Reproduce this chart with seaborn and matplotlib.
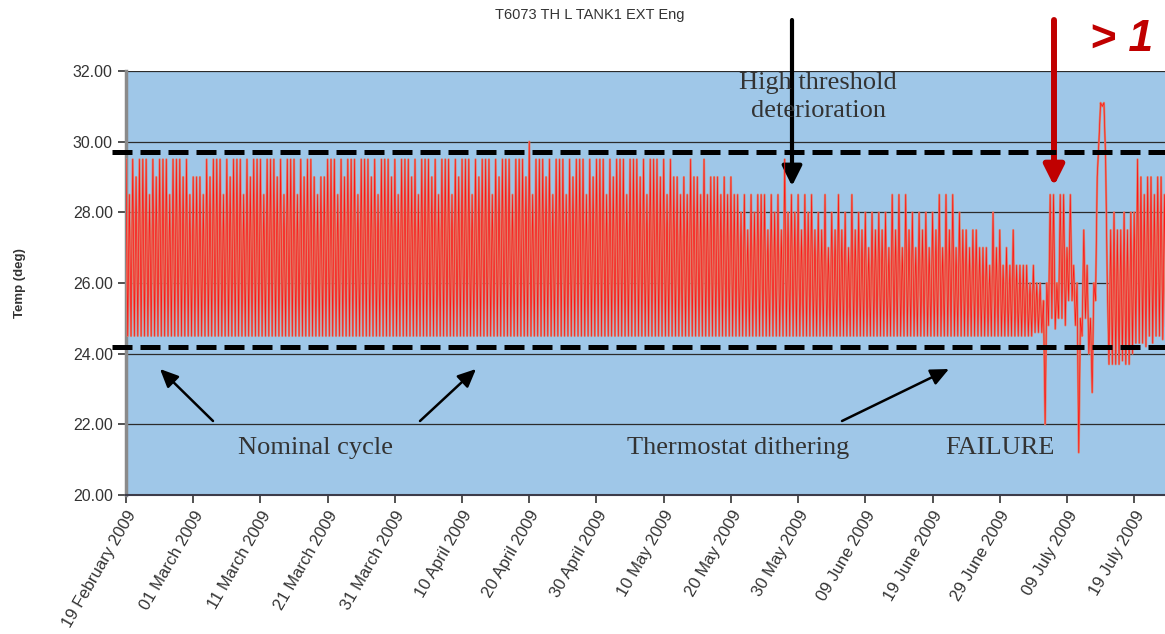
import numpy as np
import pandas as pd
import seaborn as sns
import matplotlib.pyplot as plt

# tank temperature, one row = 10 days, 4 readings per day (peak, low, peak, low)
peak_a = [
    29.5, 29.5, 29.5, 29.5, 29.5, 29.5, 29.5, 29.5, 29.5, 29.5,
    29.0, 29.0, 29.5, 29.5, 29.5, 29.5, 29.5, 29.5, 29.5, 29.5,
    29.5, 29.5, 29.5, 29.5, 29.5, 29.5, 29.5, 29.5, 29.0, 29.0,
    29.5, 29.5, 29.5, 29.5, 29.5, 29.5, 29.5, 29.5, 29.5, 29.5,
    29.5, 29.5, 29.5, 29.5, 29.5, 29.5, 29.5, 29.5, 29.5, 29.5,
    29.5, 29.5, 29.5, 29.5, 29.5, 29.5, 29.5, 29.5, 29.5, 29.5,
    30.0, 29.5, 29.5, 29.5, 29.5, 29.5, 29.5, 29.5, 29.5, 29.5,
    29.5, 29.5, 29.5, 29.5, 29.5, 29.5, 29.5, 29.5, 29.5, 29.5,
    29.5, 29.5, 29.0, 29.0, 29.5, 29.0, 29.5, 29.0, 29.0, 29.0,
    29.0, 28.5, 28.5, 28.5, 28.5, 28.5, 28.5, 28.5, 29.5, 28.5,
    28.5, 28.5, 28.5, 28.0, 28.5, 28.0, 28.5, 28.0, 28.5, 28.0,
    28.0, 28.0, 28.0, 28.0, 28.5, 28.5, 28.5, 28.0, 28.0, 28.0,
    28.0, 28.5, 28.5, 28.5, 28.0, 27.5, 27.5, 27.0, 27.0, 28.0,
    27.5, 27.0, 27.5, 26.5, 26.5, 26.5, 26.0, 26.0, 28.5, 28.5,
    27.0, 26.5, 25.0, 26.5, 26.0, 31.1, 26.0, 28.0, 27.5, 27.5,
    28.0, 29.0, 29.0, 28.5, 29.0,
]
low_a = [
    24.5, 24.5, 24.5, 24.5, 24.5, 24.5, 24.5, 24.5, 24.5, 24.5,
    24.5, 24.5, 24.5, 24.5, 24.5, 24.5, 24.5, 24.5, 24.5, 24.5,
    24.5, 24.5, 24.5, 24.5, 24.5, 24.5, 24.5, 24.5, 24.5, 24.5,
    24.5, 24.5, 24.5, 24.5, 24.5, 24.5, 24.5, 24.5, 24.5, 24.5,
    24.5, 24.5, 24.5, 24.5, 24.5, 24.5, 24.5, 24.5, 24.5, 24.5,
    24.5, 24.5, 24.5, 24.5, 24.5, 24.5, 24.5, 24.5, 24.5, 24.5,
    24.5, 24.5, 24.5, 24.5, 24.5, 24.5, 24.5, 24.5, 24.5, 24.5,
    24.5, 24.5, 24.5, 24.5, 24.5, 24.5, 24.5, 24.5, 24.5, 24.5,
    24.5, 24.5, 24.5, 24.5, 24.5, 24.5, 24.5, 24.5, 24.5, 24.5,
    24.5, 24.5, 24.5, 24.5, 24.5, 24.5, 24.5, 24.5, 24.5, 24.5,
    24.5, 24.5, 24.5, 24.5, 24.5, 24.5, 24.5, 24.5, 24.5, 24.5,
    24.5, 24.5, 24.5, 24.5, 24.5, 24.5, 24.5, 24.5, 24.5, 24.5,
    24.5, 24.5, 24.5, 24.5, 24.5, 24.5, 24.5, 24.5, 24.5, 24.5,
    24.5, 24.5, 24.5, 24.5, 24.5, 24.6, 24.6, 24.8, 24.7, 25.0,
    25.5, 24.8, 24.5, 24.0, 25.5, 31.0, 23.7, 23.7, 23.8, 23.7,
    24.3, 24.3, 24.5, 24.5, 24.4,
]
peak_b = [
    28.5, 29.0, 29.5, 28.5, 29.0, 29.5, 28.5, 29.5, 29.0, 28.5,
    29.0, 28.5, 29.0, 29.5, 28.5, 29.0, 29.5, 28.5, 29.0, 29.5,
    28.5, 29.5, 29.0, 28.5, 29.5, 28.5, 29.0, 29.5, 28.5, 29.0,
    29.5, 28.5, 29.0, 29.5, 28.5, 29.5, 29.0, 28.5, 29.5, 29.0,
    28.5, 29.5, 29.0, 28.5, 29.5, 29.0, 28.5, 29.5, 28.5, 29.0,
    29.5, 28.5, 29.0, 29.5, 28.5, 29.0, 29.5, 28.5, 29.5, 29.0,
    28.5, 29.5, 29.0, 28.5, 29.5, 28.5, 29.0, 29.5, 28.5, 29.0,
    29.5, 28.5, 29.0, 29.5, 28.5, 29.5, 29.0, 28.5, 29.5, 29.0,
    28.5, 29.0, 28.5, 28.5, 29.0, 28.5, 28.5, 29.0, 28.5, 28.5,
    28.5, 28.0, 27.5, 28.0, 28.5, 27.5, 28.0, 27.5, 28.0, 28.0,
    27.5, 28.0, 27.5, 27.5, 27.0, 27.5, 27.5, 27.0, 27.5, 27.5,
    27.0, 27.5, 27.5, 27.0, 27.5, 27.0, 27.5, 27.0, 27.5, 27.0,
    27.5, 27.0, 27.5, 27.0, 27.5, 27.0, 27.5, 27.0, 26.5, 27.0,
    26.5, 26.5, 26.5, 26.5, 26.0, 26.0, 25.5, 28.5, 26.0, 28.5,
    28.5, 26.0, 27.5, 25.0, 29.0, 31.1, 27.5, 27.5, 28.0, 28.0,
    29.5, 28.5, 29.0, 29.0, 28.5,
]
low_b = [
    24.5, 24.5, 24.5, 24.5, 24.5, 24.5, 24.5, 24.5, 24.5, 24.5,
    24.5, 24.5, 24.5, 24.5, 24.5, 24.5, 24.5, 24.5, 24.5, 24.5,
    24.5, 24.5, 24.5, 24.5, 24.5, 24.5, 24.5, 24.5, 24.5, 24.5,
    24.5, 24.5, 24.5, 24.5, 24.5, 24.5, 24.5, 24.5, 24.5, 24.5,
    24.5, 24.5, 24.5, 24.5, 24.5, 24.5, 24.5, 24.5, 24.5, 24.5,
    24.5, 24.5, 24.5, 24.5, 24.5, 24.5, 24.5, 24.5, 24.5, 24.5,
    24.5, 24.5, 24.5, 24.5, 24.5, 24.5, 24.5, 24.5, 24.5, 24.5,
    24.5, 24.5, 24.5, 24.5, 24.5, 24.5, 24.5, 24.5, 24.5, 24.5,
    24.5, 24.5, 24.5, 24.5, 24.5, 24.5, 24.5, 24.5, 24.5, 24.5,
    24.5, 24.5, 24.5, 24.5, 24.5, 24.5, 24.5, 24.5, 24.5, 24.5,
    24.5, 24.5, 24.5, 24.5, 24.5, 24.5, 24.5, 24.5, 24.5, 24.5,
    24.5, 24.5, 24.5, 24.5, 24.5, 24.5, 24.5, 24.5, 24.5, 24.5,
    24.5, 24.5, 24.5, 24.5, 24.5, 24.5, 24.5, 24.5, 24.5, 24.5,
    24.5, 24.5, 24.5, 24.5, 24.5, 24.6, 22.0, 25.0, 25.0, 24.8,
    25.5, 21.2, 25.0, 22.9, 30.0, 29.5, 23.7, 23.7, 23.7, 24.0,
    24.3, 24.2, 24.3, 24.5, 24.5,
]

# thresholds (dashed lines)
high_threshold = 29.7
low_threshold = 24.2

tick_labels = [
    "19 February 2009", "01 March 2009", "11 March 2009", "21 March 2009",
    "31 March 2009", "10 April 2009", "20 April 2009", "30 April 2009",
    "10 May 2009", "20 May 2009", "30 May 2009", "09 June 2009",
    "19 June 2009", "29 June 2009", "09 July 2009", "19 July 2009",
]

temp = np.column_stack([peak_a, low_a, peak_b, low_b]).ravel()
df = pd.DataFrame({
    "time": pd.date_range("2009-02-19", periods=len(temp), freq="6h"),
    "temp": temp,
})
tick_dates = pd.to_datetime(tick_labels, format="%d %B %Y")

plt.rcParams["font.family"] = ["Liberation Sans", "DejaVu Sans"]

W, H = 1165, 634
fig = plt.figure(figsize=(W / 100, H / 100), dpi=100)
ax = fig.add_axes([126 / W, 1 - 495 / H, 1 - 126 / W, (495 - 71) / H])
ax.set_facecolor("#9fc7e8")

# salmon body + thin bright red strokes, like the excel rendering
sns.lineplot(data=df, x="time", y="temp", ax=ax, color="#df806c", lw=1.6,
             estimator=None, sort=False, zorder=3)
sns.lineplot(data=df, x="time", y="temp", ax=ax, color="#ff1414", lw=0.5,
             estimator=None, sort=False, zorder=4)

ax.set_xlim(pd.Timestamp("2009-02-19"), pd.Timestamp("2009-07-23 14:00"))
ax.set_ylim(20, 32)
ax.set_yticks(np.arange(20, 33, 2))
ax.set_yticklabels([f"{v:.2f}" for v in np.arange(20, 33, 2)], fontsize=11.5, color="#333333")
ax.set_xticks(tick_dates)
ax.set_xticklabels(tick_labels, rotation=60, ha="right", va="top",
                   rotation_mode="anchor", fontsize=12, color="#333333")
ax.tick_params(axis="both", direction="out", length=6, width=1.2, color="#333333")
ax.yaxis.grid(True, color="#2b2b2b", lw=0.9, zorder=1)
ax.set_axisbelow(True)
ax.set_xlabel("")
ax.set_ylabel("")
for s in ["top", "right"]:
    ax.spines[s].set_visible(False)
ax.spines["left"].set_color("#8a8a8a")
ax.spines["left"].set_linewidth(2.5)
ax.spines["bottom"].set_color("#3c3c4a")
ax.spines["bottom"].set_linewidth(1.5)

for yv in [high_threshold, low_threshold]:
    ax.plot([-0.013, 1.0], [yv, yv], transform=ax.get_yaxis_transform(),
            color="black", lw=3.6, ls=(0, (4, 1.6)), clip_on=False,
            solid_capstyle="butt", dash_capstyle="butt", zorder=5)

fig.text(590 / W, 1 - 15 / H, "T6073 TH L TANK1 EXT Eng", ha="center", va="center",
         fontsize=10.5, color="#333333")
fig.text(20 / W, 1 - 283 / H, "Temp (deg)", rotation=90, ha="center", va="center",
         fontsize=9.5, fontweight="bold", color="#333333")

serif = dict(family=["Liberation Serif", "DejaVu Serif"], fontsize=19, color="#333333",
             ha="center", va="center")
fig.text(316 / W, 1 - 448 / H, "Nominal cycle", **serif)
fig.text(738 / W, 1 - 448 / H, "Thermostat dithering", **serif)
fig.text(1000 / W, 1 - 448 / H, "FAILURE", **serif)
fig.text(818 / W, 1 - 97 / H, "High threshold\ndeterioration", linespacing=1.3, **serif)

fig.text(1090 / W, 1 - 51 / H, "> 1", ha="left", va="baseline", fontsize=32,
         fontweight="bold", fontstyle="italic", color="#c00000")


def arrow(p0, p1, color, lw, style):
    ax.annotate("", xy=(p1[0] / W, 1 - p1[1] / H), xytext=(p0[0] / W, 1 - p0[1] / H),
                xycoords="figure fraction", textcoords="figure fraction",
                annotation_clip=False,
                arrowprops=dict(arrowstyle=style, color=color, lw=lw,
                                mutation_scale=20, shrinkA=0, shrinkB=0))


big = "-|>,head_length=0.6,head_width=0.3"
small = "-|>,head_length=0.55,head_width=0.25"
arrow((792, 20), (792, 186), "black", 3.0, big)
arrow((1054, 20), (1054, 186), "#c00000", 4.3, big)
arrow((213, 421), (160, 369), "black", 1.8, small)
arrow((420, 421), (476, 369), "black", 1.8, small)
arrow((842, 421), (949, 369), "black", 1.8, small)

plt.savefig("out.png", dpi=100)
